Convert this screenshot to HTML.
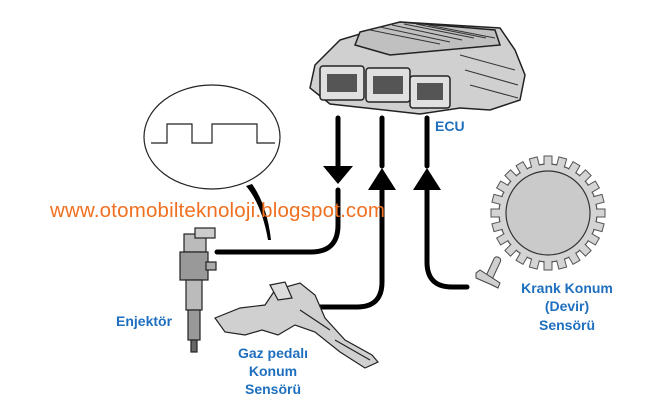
<!DOCTYPE html>
<html><head><meta charset="utf-8"><style>
body{margin:0;background:#fff;width:656px;height:401px;overflow:hidden;font-family:"Liberation Sans",sans-serif}
svg{position:absolute;left:0;top:0}
.l{font-family:"Liberation Sans",sans-serif;font-weight:bold;font-size:14px;fill:#1f6fbf}
</style></head><body>
<svg width="656" height="401" viewBox="0 0 656 401">
<!-- ECU -->
<g stroke="#222" stroke-width="1.5" fill="#d0d0d0">
<polygon points="340,40 400,22 500,28 515,50 525,75 520,100 490,110 460,108 420,114 330,104 310,88 315,65"/>
<polygon points="360,32 400,22 495,30 500,45 390,55 355,45" fill="#c0c0c0"/>
<rect x="320" y="66" width="44" height="34" rx="3" fill="#e0e0e0"/>
<rect x="366" y="68" width="44" height="34" rx="3" fill="#e0e0e0"/>
<rect x="410" y="76" width="40" height="32" rx="3" fill="#e0e0e0"/>
</g>
<g fill="#555"><rect x="327" y="74" width="30" height="18"/><rect x="373" y="76" width="30" height="18"/><rect x="417" y="83" width="26" height="17"/></g>
<g stroke="#333" stroke-width="1">
<path d="M370 30 L440 44 M380 27 L450 42 M392 25 L462 40 M404 24 L474 38 M416 24 L486 38 M428 25 L495 38 M460 55 L515 70 M465 70 L518 85 M470 85 L518 98"/>
</g>
<text x="435" y="131" class="l" font-size="15">ECU</text>
<!-- bubble -->
<ellipse cx="212" cy="137" rx="68" ry="52" fill="none" stroke="#222" stroke-width="1.2"/>
<polyline points="151,143 167,143 167,124 192,124 192,143 212,143 212,124 257,124 257,143 275,143" fill="none" stroke="#222" stroke-width="1.2"/>
<path d="M246 186 Q262 205 268 240 L271 240 Q267 205 252 184 Z" fill="#000"/>
<!-- lines -->
<g fill="none" stroke="#000" stroke-width="5" stroke-linecap="round">
<path d="M338 118 V168"/>
<path d="M338 190 V225 Q338 252 311 252 H217"/>
<path d="M382 118 V166"/>
<path d="M382 190 V282 Q382 307 357 307 H308"/>
<path d="M427 118 V166"/>
<path d="M427 190 V262 Q427 287 452 287 H467"/>
</g>
<polygon points="323,166 353,166 338,184" fill="#000"/>
<polygon points="368,190 396,190 382,168" fill="#000"/>
<polygon points="413,190 441,190 427,168" fill="#000"/>
<!-- gear -->
<g transform="translate(548,213)">
<circle r="49" fill="#d4d4d4" stroke="#555" stroke-width="1.2"/>
<g fill="#d4d4d4" stroke="#555" stroke-width="1">
<path id="t" d="M-4,-48 V-57 H4 V-48"/>
</g>
<circle r="42" fill="#cacaca" stroke="#333" stroke-width="1.2"/>
</g>
<!-- crank sensor -->
<g fill="#d0d0d0" stroke="#444" stroke-width="1">
<rect x="490" y="256" width="7" height="24" rx="3" transform="rotate(25 493 268)"/>
<polygon points="476,273 480,270 500,283 498,288 492,285 476,278"/>
</g>
<!-- injector -->
<g fill="#aaa" stroke="#222" stroke-width="1.2">
<rect x="184" y="234" width="22" height="18" fill="#bbb"/>
<rect x="195" y="228" width="20" height="10" fill="#ccc"/>
<rect x="180" y="252" width="28" height="28" fill="#999"/>
<rect x="206" y="262" width="10" height="8" fill="#aaa"/>
<rect x="186" y="280" width="16" height="30" fill="#bbb"/>
<rect x="188" y="310" width="12" height="30" fill="#999"/>
<rect x="191" y="340" width="6" height="12" fill="#666"/>
</g>
<!-- pedal -->
<g fill="#d0d0d0" stroke="#222" stroke-width="1.2">
<polygon points="215,318 240,308 265,305 275,290 300,283 315,295 325,318 345,340 372,355 378,362 365,368 340,352 315,332 295,325 278,335 262,330 245,335 225,332"/>
<polygon points="270,285 285,282 292,298 278,300" fill="#ddd"/>
<path d="M300 310 L330 330 M335 340 L370 360" fill="none"/>
</g>
<!-- text -->
<text x="50" y="217" font-family="Liberation Sans,sans-serif" font-size="20.5" fill="#f07020" textLength="335">www.otomobilteknoloji.blogspot.com</text>
<text x="116" y="326" class="l">Enjektör</text>
<text x="273" y="358" class="l" text-anchor="middle">Gaz pedalı</text>
<text x="273" y="376" class="l" text-anchor="middle">Konum</text>
<text x="273" y="394" class="l" text-anchor="middle">Sensörü</text>
<text x="567" y="293" class="l" text-anchor="middle">Krank Konum</text>
<text x="567" y="311" class="l" text-anchor="middle">(Devir)</text>
<text x="567" y="330" class="l" text-anchor="middle">Sensörü</text>
</svg>
<script>
var t=document.getElementById('t');
for(var i=1;i<24;i++){var c=t.cloneNode();c.removeAttribute('id');c.setAttribute('transform','rotate('+(i*15)+')');t.parentNode.appendChild(c);}
</script>
</body></html>
